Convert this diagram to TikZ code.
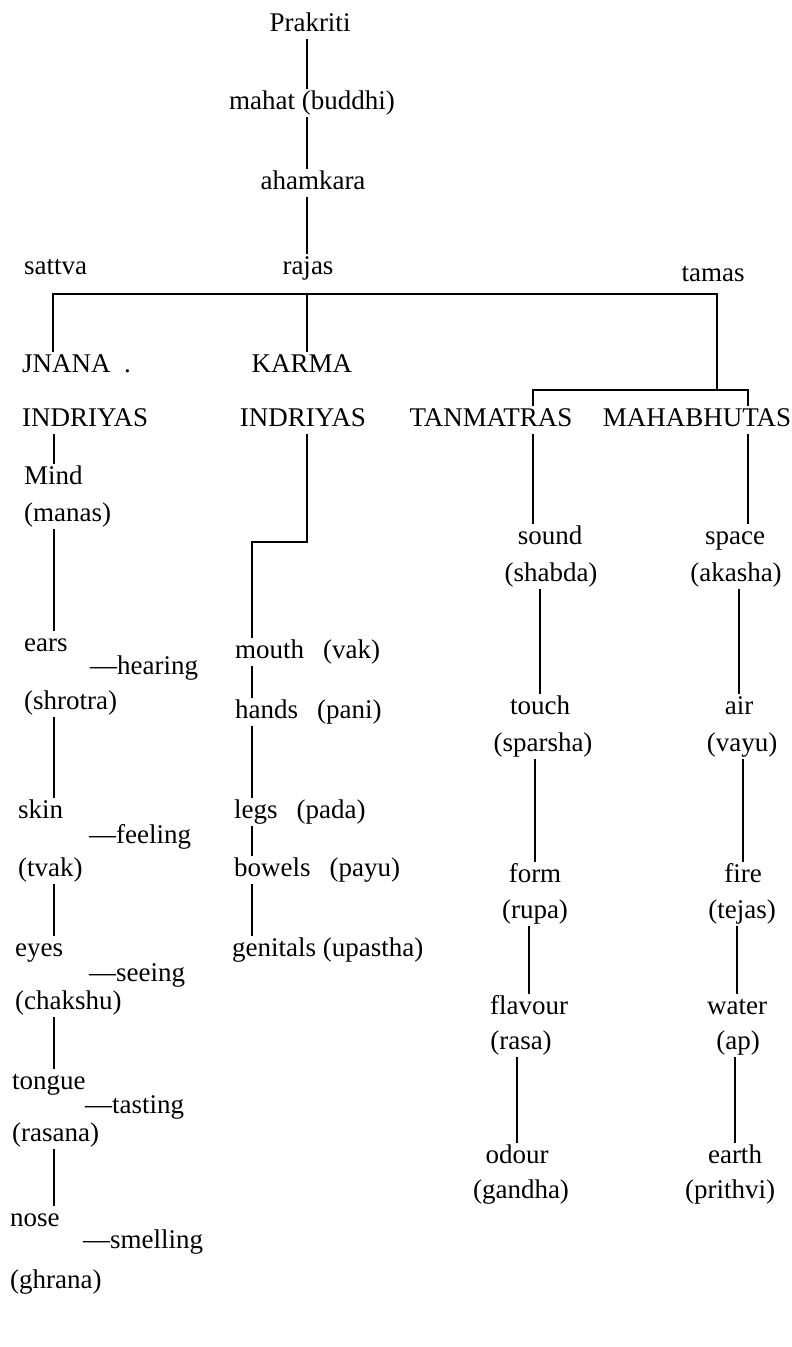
\documentclass[tikz,border=0pt]{standalone}
\usepackage{fontspec}
\setmainfont{Liberation Serif}
\begin{document}
\begin{tikzpicture}[x=1pt,y=-1pt,
  lbl/.style={inner sep=2pt, font=\fontsize{27}{30}\selectfont, text height=18pt, text depth=6pt},
  lft/.style={lbl, anchor=west},
  conn/.style={line width=1.6pt}]
\useasboundingbox (0,0) rectangle (792,1347);
% top chain
\node[lbl] (prakriti) at (310,25) {Prakriti};
\node[lbl] (mahat) at (312,103) {mahat (buddhi)};
\node[lbl] (ahamkara) at (313,183) {ahamkara};
\node[lft] (sattva) at (22,268) {sattva};
\node[lbl] (rajas) at (308,268) {rajas};
\node[lbl] (tamas) at (713,275) {tamas};
% second level
\node[lft] (jnana) at (20,366) {JNANA\hspace{0.5em}.};
\node[lft] (ind1) at (20,420) {INDRIYAS};
\node[lbl] (karma) at (302,366) {KARMA};
\node[lbl] (ind2) at (303,420) {INDRIYAS};
\node[lbl] (tanmatras) at (491,420) {TANMATRAS};
\node[lbl] (mahabhutas) at (697,420) {MAHABHUTAS};
% jnana column
\node[lft] (mind) at (22,478) {Mind};
\node[lft] (manas) at (22,515) {(manas)};
\node[lft] (ears) at (22,645) {ears};
\node[lft] (hearing) at (88,668) {---hearing};
\node[lft] (shrotra) at (22,703) {(shrotra)};
\node[lft] (skin) at (16,812) {skin};
\node[lft] (feeling) at (87,837) {---feeling};
\node[lft] (tvak) at (16,870) {(tvak)};
\node[lft] (eyes) at (13,950) {eyes};
\node[lft] (seeing) at (87,975) {---seeing};
\node[lft] (chakshu) at (13,1003) {(chakshu)};
\node[lft] (tongue) at (10,1083) {tongue};
\node[lft] (tasting) at (83,1107) {---tasting};
\node[lft] (rasana) at (10,1135) {(rasana)};
\node[lft] (nose) at (8,1220) {nose};
\node[lft] (smelling) at (81,1242) {---smelling};
\node[lft] (ghrana) at (8,1282) {(ghrana)};
% karma column
\node[lft] (mouth) at (233,652) {mouth\hspace{0.45em} (vak)};
\node[lft] (hands) at (233,712) {hands\hspace{0.45em} (pani)};
\node[lft] (legs) at (232,812) {legs\hspace{0.45em} (pada)};
\node[lft] (bowels) at (232,870) {bowels\hspace{0.45em} (payu)};
\node[lft] (genitals) at (230,950) {genitals (upastha)};
% tanmatras column
\node[lbl] (sound) at (550,538) {sound};
\node[lbl] (shabda) at (551,575) {(shabda)};
\node[lbl] (touch) at (540,708) {touch};
\node[lbl] (sparsha) at (543,745) {(sparsha)};
\node[lbl] (form) at (535,876) {form};
\node[lbl] (rupa) at (535,912) {(rupa)};
\node[lbl] (flavour) at (529,1008) {flavour};
\node[lbl] (rasa) at (521,1043) {(rasa)};
\node[lbl] (odour) at (517,1157) {odour};
\node[lbl] (gandha) at (521,1192) {(gandha)};
% mahabhutas column
\node[lbl] (space) at (735,538) {space};
\node[lbl] (akasha) at (736,575) {(akasha)};
\node[lbl] (air) at (739,708) {air};
\node[lbl] (vayu) at (742,745) {(vayu)};
\node[lbl] (fire) at (743,876) {fire};
\node[lbl] (tejas) at (742,912) {(tejas)};
\node[lbl] (water) at (737,1008) {water};
\node[lbl] (ap) at (738,1043) {(ap)};
\node[lbl] (earth) at (735,1157) {earth};
\node[lbl] (prithvi) at (730,1192) {(prithvi)};
% helper coordinates
\coordinate (cP) at (307,0);
\coordinate (barL) at (53,294);
\coordinate (barR) at (717,294);
\coordinate (brkT) at (533,390);
\coordinate (brkM) at (748,390);
\coordinate (cL) at (54,0);
\coordinate (kstep) at (307,542);
\coordinate (kstep2) at (252,542);
% connectors
\draw[conn] (prakriti.south -| cP) -- (mahat.north -| cP);
\draw[conn] (mahat.south -| cP) -- (ahamkara.north -| cP);
\draw[conn] (ahamkara.south -| cP) -- (rajas.north -| cP);
\draw[conn] (jnana.north -| barL) -- (barL) -- (barR) -- (barR |- brkT);
\draw[conn] (barL -| kstep) -- (karma.north -| kstep);
\draw[conn] (tanmatras.north -| brkT) -- (brkT) -- (brkM) -- (mahabhutas.north -| brkM);
\draw[conn] (ind1.south -| cL) -- (mind.north -| cL);
\draw[conn] (manas.south -| cL) -- (ears.north -| cL);
\draw[conn] (shrotra.south -| cL) -- (skin.north -| cL);
\draw[conn] (tvak.south -| cL) -- (eyes.north -| cL);
\draw[conn] (chakshu.south -| cL) -- (tongue.north -| cL);
\draw[conn] (rasana.south -| cL) -- (nose.north -| cL);
\draw[conn] (ind2.south -| kstep) -- (kstep) -- (kstep2) -- (mouth.north -| kstep2);
\draw[conn] (mouth.south -| kstep2) -- (hands.north -| kstep2);
\draw[conn] (hands.south -| kstep2) -- (legs.north -| kstep2);
\draw[conn] (legs.south -| kstep2) -- (bowels.north -| kstep2);
\draw[conn] (bowels.south -| kstep2) -- (genitals.north -| kstep2);
\draw[conn] (tanmatras.south -| brkT) -- (sound.north -| brkT);
\draw[conn] (shabda.south -| touch.north) -- (touch.north);
\draw[conn] (sparsha.south -| form.north) -- (form.north);
\draw[conn] (rupa.south -| flavour.north) -- (flavour.north);
\draw[conn] (rasa.south -| odour.north) -- (odour.north);
\draw[conn] (mahabhutas.south -| brkM) -- (space.north -| brkM);
\draw[conn] (akasha.south -| air.north) -- (air.north);
\draw[conn] (vayu.south -| fire.north) -- (fire.north);
\draw[conn] (tejas.south -| water.north) -- (water.north);
\draw[conn] (ap.south -| earth.north) -- (earth.north);
\end{tikzpicture}
\end{document}
